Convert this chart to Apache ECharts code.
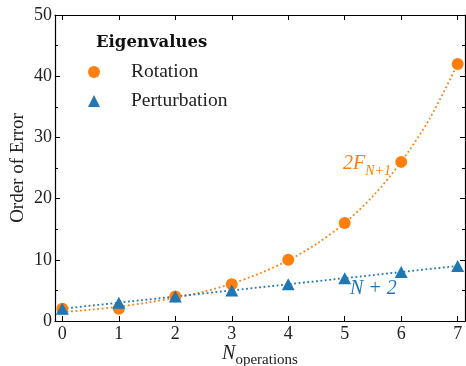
<!DOCTYPE html>
<html>
<head>
<meta charset="utf-8">
<script src="https://cdn.jsdelivr.net/npm/echarts@6/dist/echarts.min.js"></script>
<style>
  html, body { margin: 0; padding: 0; background: #fff; }
  #chart { width: 466px; height: 366px; }
</style>
</head>
<body>
<div id="chart"></div>
<script>
// measured points
const nOps = [0, 1, 2, 3, 4, 5, 6, 7];
const rotation = [2, 2, 4, 6, 10, 16, 26, 42];
const perturbation = [2, 3, 4, 5, 6, 7, 8, 9];

// dotted guide curves
const fibCurveX = [0, 0.5, 1, 1.5, 2, 2.5, 3, 3.5, 4, 4.5, 5, 5.5, 6, 6.5, 7];
const fibCurveY = [1.45, 1.85, 2.35, 3.0, 3.8, 4.8, 6.1, 7.8, 9.9, 12.6, 16.0, 20.4, 26.0, 33.0, 42.0];
const linCurveX = [0, 7];
const linCurveY = [2, 9];

const xTicks = [0, 1, 2, 3, 4, 5, 6, 7];

const ORANGE = '#ff7f0e';
const BLUE = '#1f77b4';
const FONT = 'Liberation Serif';
const INK = '#222';

const zip = (xs, ys) => xs.map((x, i) => [x, ys[i]]);

const chart = echarts.init(document.getElementById('chart'), null, { renderer: 'canvas' });

const xBase = {
  type: 'value',
  min: -0.13,
  max: 7.13,
  splitLine: { show: false },
  axisLine: { show: true, onZero: false, lineStyle: { color: '#000', width: 1.2 } },
  axisTick: { show: true, inside: true, length: 5, customValues: xTicks, lineStyle: { color: '#000', width: 1 } },
};
const yBase = {
  type: 'value',
  min: 0,
  max: 50,
  interval: 10,
  splitLine: { show: false },
  axisLine: { show: true, onZero: false, lineStyle: { color: '#000', width: 1.2 } },
  axisTick: { show: true, inside: true, length: 5, lineStyle: { color: '#000', width: 1 } },
  minorTick: { show: true, splitNumber: 2, length: 3, lineStyle: { color: '#000', width: 1 } },
};

chart.setOption({
  animation: false,
  backgroundColor: '#fff',
  title: {
    text: 'Eigenvalues',
    left: 91,
    top: 29,
    textStyle: { fontFamily: 'DejaVu Serif', fontSize: 16.5, fontWeight: 'bold', color: '#111' },
  },
  legend: {
    orient: 'vertical',
    left: 83,
    top: 57,
    itemWidth: 12,
    itemHeight: 12,
    itemGap: 9,
    data: ['Rotation', 'Perturbation'],
    formatter: (name) => '{g|}' + name,
    textStyle: {
      fontFamily: FONT, fontSize: 19.5, color: INK, lineHeight: 18,
      rich: { g: { width: 26 } },
    },
  },
  grid: { left: 55, right: 1, top: 15, bottom: 45, containLabel: false, outerBoundsMode: 'none' },
  xAxis: [
    Object.assign({}, xBase, {
      position: 'bottom',
      name: '{n|N}{s|operations}',
      nameLocation: 'middle',
      nameGap: 23,
      nameMoveOverlap: false,
      nameTextStyle: {
        color: INK,
        rich: {
          n: { fontFamily: FONT, fontStyle: 'italic', fontSize: 20, color: INK, verticalAlign: 'bottom', padding: [0, 0, 4, 0] },
          s: { fontFamily: FONT, fontSize: 15, color: INK, verticalAlign: 'bottom' },
        },
      },
      axisLabel: { show: true, customValues: xTicks, margin: 4, fontFamily: FONT, fontSize: 18, color: INK },
    }),
    Object.assign({}, xBase, { position: 'top', axisLabel: { show: false } }),
  ],
  yAxis: [
    Object.assign({}, yBase, {
      position: 'left',
      name: 'Order of Error',
      nameLocation: 'middle',
      nameGap: 27,
      nameMoveOverlap: false,
      nameTextStyle: { fontFamily: FONT, fontSize: 19, color: INK },
      axisLabel: { show: true, margin: 3, fontFamily: FONT, fontSize: 18, color: INK },
    }),
    Object.assign({}, yBase, { position: 'right', axisLabel: { show: false } }),
  ],
  series: [
    {
      name: 'fib-fit',
      type: 'line',
      data: zip(fibCurveX, fibCurveY),
      smooth: 0.3,
      showSymbol: false,
      symbol: 'none',
      lineStyle: { color: ORANGE, width: 1.8, type: [1.8, 2.6] },
      z: 2,
    },
    {
      name: 'lin-fit',
      type: 'line',
      data: zip(linCurveX, linCurveY),
      showSymbol: false,
      symbol: 'none',
      lineStyle: { color: BLUE, width: 1.8, type: [1.8, 2.6] },
      z: 2,
    },
    {
      name: 'Rotation',
      type: 'scatter',
      data: zip(nOps, rotation),
      symbol: 'circle',
      symbolSize: 12,
      itemStyle: { color: ORANGE, opacity: 1 },
      z: 3,
    },
    {
      name: 'Perturbation',
      type: 'scatter',
      data: zip(nOps, perturbation),
      symbol: 'triangle',
      symbolSize: [13, 12],
      itemStyle: { color: BLUE, opacity: 1 },
      z: 4,
    },
  ],
  graphic: [
    {
      type: 'text',
      left: 343,
      top: 154,
      style: {
        text: '{m|2F}{s|N+1}',
        rich: {
          m: { fontFamily: FONT, fontStyle: 'italic', fontSize: 20, fill: ORANGE, verticalAlign: 'bottom', padding: [0, 0, 4, 0] },
          s: { fontFamily: FONT, fontStyle: 'italic', fontSize: 14, fill: ORANGE, verticalAlign: 'bottom' },
        },
      },
    },
    {
      type: 'text',
      left: 350,
      top: 279,
      style: {
        text: 'N + 2',
        fontFamily: FONT,
        fontStyle: 'italic',
        fontSize: 20,
        fill: BLUE,
      },
    },
  ],
});
</script>
</body>
</html>
